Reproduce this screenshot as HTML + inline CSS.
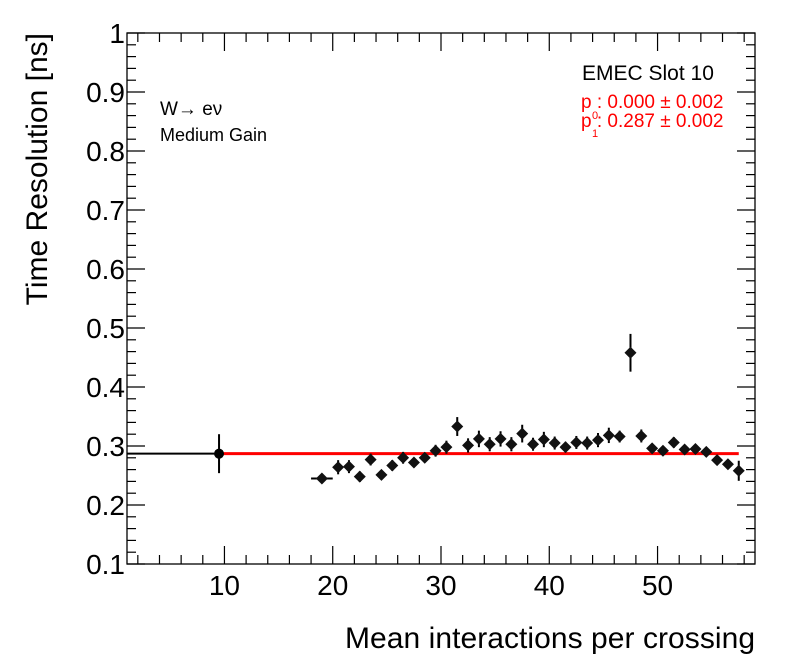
<!DOCTYPE html>
<html><head><meta charset="utf-8"><style>
body{margin:0;background:#fff;}
svg{display:block;font-family:"Liberation Sans",sans-serif;}
</style></head><body>
<svg id="c" width="796" height="672"></svg>
<script>
const xs=[19,20.5,21.5,22.5,23.5,24.5,25.5,26.5,27.5,28.5,29.5,30.5,31.5,32.5,33.5,34.5,35.5,36.5,37.5,38.5,39.5,40.5,41.5,42.5,43.5,44.5,45.5,46.5,47.5,48.5,49.5,50.5,51.5,52.5,53.5,54.5,55.5,56.5,57.5];
const ys=[0.245,0.264,0.265,0.248,0.277,0.251,0.267,0.280,0.272,0.280,0.292,0.298,0.333,0.301,0.312,0.303,0.312,0.303,0.321,0.303,0.311,0.305,0.298,0.306,0.305,0.310,0.318,0.316,0.458,0.317,0.296,0.292,0.306,0.294,0.295,0.290,0.276,0.269,0.258];
const errs=[0.007,0.012,0.011,0.009,0.010,0.008,0.009,0.010,0.008,0.008,0.010,0.011,0.016,0.012,0.014,0.012,0.013,0.012,0.015,0.011,0.013,0.011,0.009,0.011,0.011,0.012,0.013,0.010,0.032,0.011,0.007,0.007,0.009,0.006,0.006,0.006,0.006,0.006,0.017];
const firstPoint={x:9.5,y:0.287,err:0.033,xlo:1};
const fitP0=0.000, fitP1=0.287;
const xTicks=[10,20,30,40,50];
const yTicks=[0.1,0.2,0.3,0.4,0.5,0.6,0.7,0.8,0.9,1];
const yTickLabels=["0.1","0.2","0.3","0.4","0.5","0.6","0.7","0.8","0.9","1"];

const L=127,R=755,T=33,B=564,XMIN=1,XMAX=59,YMIN=0.1,YMAX=1;
const X=v=>L+(v-XMIN)/(XMAX-XMIN)*(R-L);
const Y=v=>B-(v-YMIN)/(YMAX-YMIN)*(B-T);
const svg=document.getElementById('c');const NS='http://www.w3.org/2000/svg';
function mk(t,a,p){const e=document.createElementNS(NS,t);for(const k in a)e.setAttribute(k,a[k]);(p||svg).appendChild(e);return e;}

let e=mk('rect',{x:L,y:T,width:R-L,height:B-T,fill:'none',stroke:'#000','stroke-width':1.3});


for(let v=2;v<=58;v+=2){const maj=v%10==0;const px=X(v);const len=maj?18:9;
mk('line',{x1:px,y1:B,x2:px,y2:B-len,stroke:'#000','stroke-width':1.2});
mk('line',{x1:px,y1:T,x2:px,y2:T+len,stroke:'#000','stroke-width':1.2});}
xTicks.forEach(v=>{const t=mk('text',{x:X(v),y:595,'font-size':28,'text-anchor':'middle'});t.textContent=v;

});
for(let i=0;i<=45;i++){const v=0.1+i*0.02;const maj=i%5==0;const py=Y(v);const len=maj?18:9;
mk('line',{x1:L,y1:py,x2:L+len,y2:py,stroke:'#000','stroke-width':1.2});
mk('line',{x1:R,y1:py,x2:R-len,y2:py,stroke:'#000','stroke-width':1.2});}
yTicks.forEach((v,i)=>{const t=mk('text',{x:L-2,y:Y(v)+10,'font-size':28,'text-anchor':'end'});t.textContent=yTickLabels[i];

});
let t=mk('text',{x:755,y:648,'font-size':30,'text-anchor':'end','textLength':410});t.textContent='Mean interactions per crossing';


t=mk('text',{x:0,y:0,'font-size':30,'text-anchor':'end',transform:'translate(47,33) rotate(-90)'});t.textContent='Time Resolution [ns]';


mk('line',{x1:X(firstPoint.xlo),y1:Y(firstPoint.y),x2:X(firstPoint.x),y2:Y(firstPoint.y),stroke:'#000','stroke-width':2});
mk('line',{x1:X(firstPoint.x),y1:Y(firstPoint.y-firstPoint.err),x2:X(firstPoint.x),y2:Y(firstPoint.y+firstPoint.err),stroke:'#000','stroke-width':2});
e=mk('line',{x1:X(firstPoint.x),y1:Y(fitP0*firstPoint.x+fitP1),x2:X(57.5),y2:Y(fitP0*57.5+fitP1),stroke:'#f00','stroke-width':3});


e=mk('circle',{cx:X(firstPoint.x),cy:Y(firstPoint.y),r:5,fill:'#000'});


xs.forEach((xv,i)=>{const px=X(xv),py=Y(ys[i]);
const g=mk('g',{});


mk('line',{x1:px,y1:Y(ys[i]-errs[i]),x2:px,y2:Y(ys[i]+errs[i]),stroke:'#000','stroke-width':2},g);
if(i==0)mk('line',{x1:X(xv-1),y1:py,x2:X(xv+1),y2:py,stroke:'#000','stroke-width':2},g);
mk('path',{d:`M${px-6} ${py}L${px} ${py-6}L${px+6} ${py}L${px} ${py+6}Z`,fill:'#111'},g);});
t=mk('text',{x:160,y:115,'font-size':19});t.textContent='W\u2192 e\u03bd';


t=mk('text',{x:160,y:141,'font-size':18});t.textContent='Medium Gain';


t=mk('text',{x:582,y:80,'font-size':21});t.textContent='EMEC Slot 10';


t=mk('text',{x:581,y:108,'font-size':19,fill:'#f00'});t.textContent='p  : '+fitP0.toFixed(3)+' \u00b1 0.002';


t=mk('text',{x:581,y:127,'font-size':19,fill:'#f00'});t.textContent='p  : '+fitP1.toFixed(3)+' \u00b1 0.002';


t=mk('text',{x:592,y:119,'font-size':11,fill:'#f00'});t.textContent='0';
t=mk('text',{x:592,y:137,'font-size':11,fill:'#f00'});t.textContent='1';
</script>
</body></html>
